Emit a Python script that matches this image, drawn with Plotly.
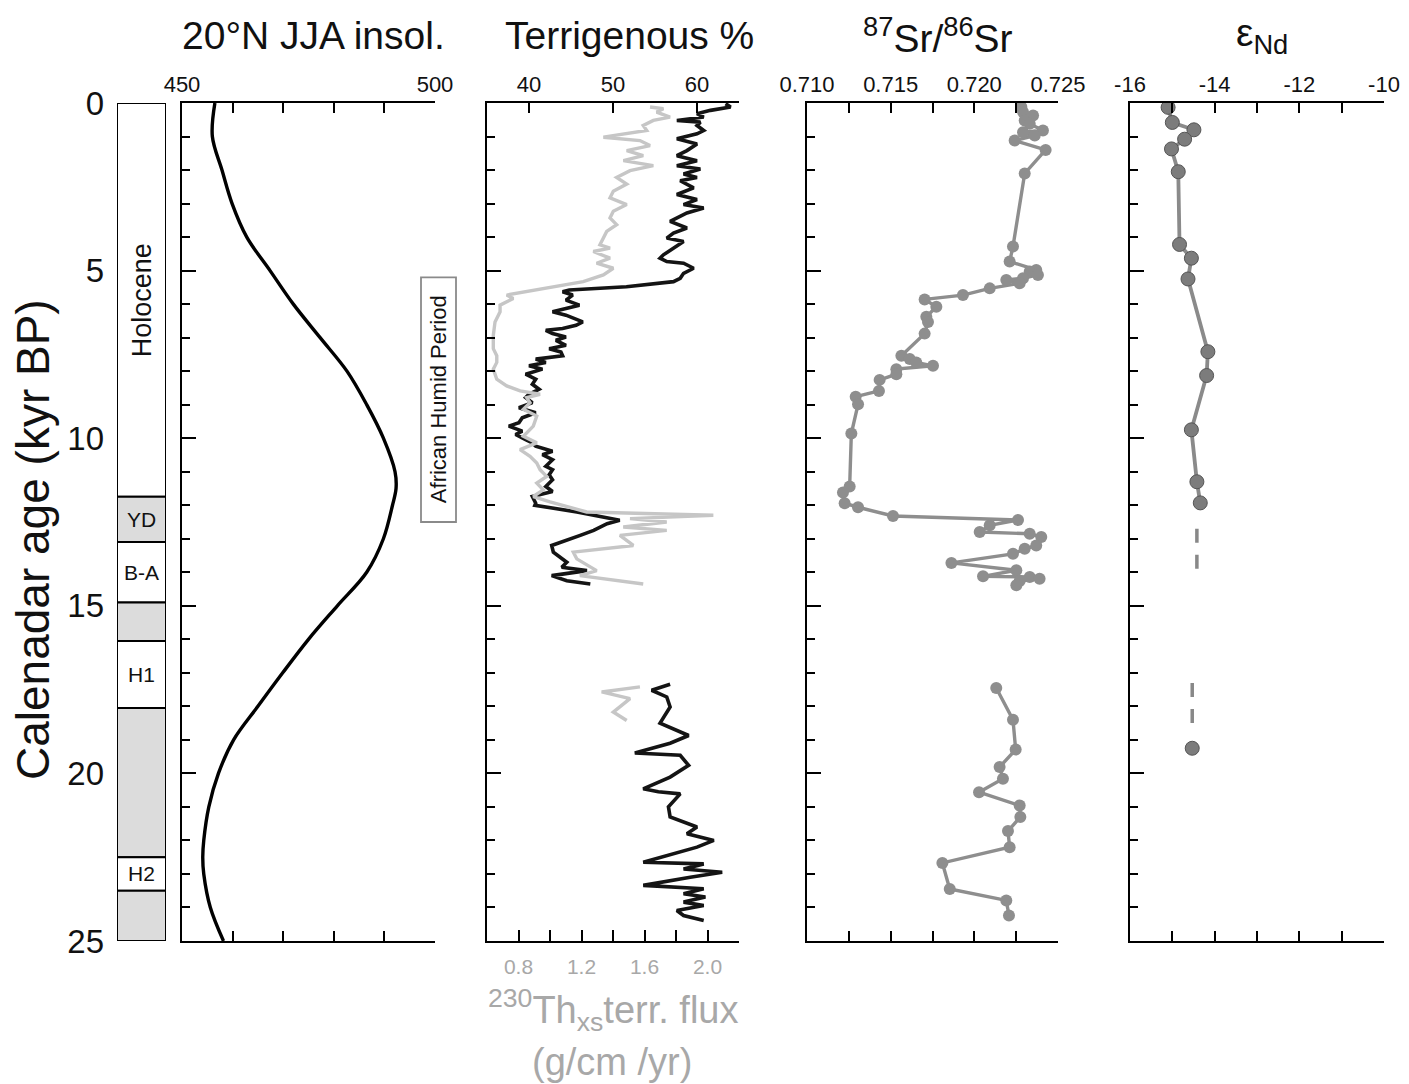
import plotly.graph_objects as go

# ---------------- data ----------------
# 20°N June-July-August insolation (W/m2) against calendar age (kyr BP)
ins_age = [0, 1, 2, 3, 4, 5, 6, 7, 8, 9, 10, 11, 11.5, 12, 13, 14, 15, 16, 17, 18, 19, 20, 21, 22, 22.5, 23, 24, 25]
ins_val = [456.5, 456.0, 457.9, 459.9, 462.8, 467.4, 472.0, 477.3, 482.6, 486.5, 489.8, 492.1, 492.3, 491.6,
           489.8, 486.5, 480.7, 475.0, 469.9, 465.0, 460.2, 457.2, 455.3, 454.3, 454.1, 454.3, 455.6, 458.2]

# Stratigraphic intervals (kyr BP)
strat_top = [0, 11.75, 13.1, 14.9, 16.05, 18.05, 22.5, 23.5]
strat_bot = [11.75, 13.1, 14.9, 16.05, 18.05, 22.5, 23.5, 25]
strat_shaded = [False, True, False, True, False, True, False, True]
strat_label = ["Holocene", "YD", "B-A", "", "H1", "", "H2", ""]

# African Humid Period (kyr BP)
ahp_start, ahp_end = 5.2, 12.5

# Terrigenous % (black)
terr_age = [0.02, 0.12, 0.22, 0.32, 0.42, 0.52, 0.57, 0.67, 0.82, 0.92, 1.07, 1.22, 1.42, 1.57, 1.72, 1.87,
            1.97, 2.12, 2.22, 2.32, 2.53, 2.73, 2.88, 3.03, 3.13, 3.28, 3.53, 3.73, 3.88, 4.03, 4.13, 4.33,
            4.53, 4.63, 4.73, 4.78, 4.93, 5.08, 5.23, 5.33, 5.48, 5.58, 5.63, 5.73, 5.88, 6.03, 6.18, 6.23,
            6.33, 6.53, 6.63, 6.73, 6.78, 6.88, 6.98, 7.08, 7.23, 7.33, 7.43, 7.54, 7.64, 7.74, 7.84, 7.94,
            8.09, 8.24, 8.39, 8.54, 8.69, 8.79, 8.94, 9.09, 9.24, 9.39, 9.54, 9.64, 9.79, 9.89, 10.04, 10.14,
            10.24, 10.39, 10.49, 10.64, 10.74, 10.84, 10.94, 11.09, 11.24, 11.34, 11.44, 11.59, 11.74, 11.94,
            12.0, 12.2, 12.35, 12.45, 12.55, 12.75, 12.9, 13.05, 13.2, 13.4, 13.7, 13.85, 13.95, 14.1, 14.25,
            14.35, None,
            17.34, 17.52, 17.72, 18.02, 18.5, 18.87, 19.1, 19.39, 19.46, 19.76, 20.11, 20.46, 20.55, 20.61,
            21.0, 21.3, 21.6, 21.8, 22.0, 22.2, 22.65, 22.7, 22.85, 22.95, 23.1, 23.34, 23.44, 23.59, 23.69,
            23.84, 23.94, 24.09, 24.24, 24.39]
terr_pct = [63.4, 64.0, 61.6, 60.0, 60.8, 57.6, 60.4, 60.0, 60.8, 60.0, 57.6, 60.0, 58.8, 57.6, 60.0, 57.6,
            60.4, 58.4, 60.0, 58.0, 59.6, 57.6, 60.0, 58.4, 60.8, 58.8, 56.8, 58.8, 57.2, 56.4, 58.4, 57.2,
            56.0, 55.6, 56.4, 58.4, 59.6, 58.4, 58.0, 57.2, 51.6, 44.8, 44.0, 45.2, 44.4, 46.0, 43.6, 42.8,
            44.4, 46.4, 45.6, 44.0, 42.0, 42.8, 44.4, 43.2, 44.4, 42.4, 43.8, 44.0, 40.8, 42.0, 40.0, 41.6,
            39.6, 40.8, 40.4, 41.2, 40.0, 39.6, 40.4, 38.8, 40.8, 39.2, 38.8, 37.6, 39.2, 38.4, 39.6, 40.4,
            40.8, 42.8, 41.6, 42.8, 42.4, 42.0, 42.8, 42.4, 42.8, 42.4, 42.0, 42.8, 40.4, 40.8,
            40.7, 45.7, 48.8, 50.8, 49.3, 47.7, 46.1, 44.5, 42.7, 42.9, 44.5, 43.9, 46.9, 42.7, 44.5,
            47.3, None,
            56.8, 54.6, 56.4, 56.8, 55.6, 59.0, 56.8, 52.6, 58.0, 59.0, 56.8, 53.6, 55.4, 58.0,
            56.6, 56.8, 60.0, 58.8, 62.0, 60.0, 53.6, 60.8, 58.4, 63.0, 59.2, 53.6, 60.8, 58.4, 61.0,
            58.4, 60.8, 57.6, 58.4, 60.8]

# 230Th-normalised terrigenous flux (grey)
flux_age = [0.12, 0.17, 0.27, 0.42, 0.52, 0.67, 0.82, 1.02, 1.12, 1.27, 1.42, 1.57, 1.72, 1.87, 2.02, 2.22,
            2.42, 2.63, 2.83, 3.03, 3.23, 3.43, 3.63, 3.83, 4.03, 4.23, 4.33, 4.43, 4.63, 4.78, 4.93, 5.13,
            5.33, 5.53, 5.73, 5.83, 6.03, 6.23, 6.53, 6.93, 7.33, 7.54, 7.74, 7.94, 8.24, 8.44, 8.59, 8.69,
            8.79, 8.94, 9.14, 9.34, 9.64, 9.94, 10.14, 10.34, 10.54, 10.74, 10.94, 11.14, 11.34, 11.54, 11.74,
            11.9, 12.2, 12.3, 12.4, 12.5, 12.65, 12.75, 12.9, 13.2, 13.4, 13.6, 13.95, 14.1, 14.35, None,
            17.42, 17.57, 17.77, 18.17, 18.42]
flux_val = [1.635, 1.72, 1.677, 1.762, 1.656, 1.592, 1.614, 1.339, 1.571, 1.635, 1.487, 1.592, 1.466, 1.656,
            1.508, 1.423, 1.487, 1.402, 1.381, 1.487, 1.402, 1.381, 1.423, 1.36, 1.339, 1.317, 1.381, 1.275,
            1.381, 1.296, 1.402, 1.339, 1.211, 0.957, 0.725, 0.767, 0.683, 0.683, 0.651, 0.64, 0.64, 0.662,
            0.662, 0.64, 0.662, 0.725, 0.81, 0.937, 0.852, 0.873, 0.831, 0.916, 0.894, 0.831, 0.916, 0.81,
            0.873, 0.916, 0.937, 0.979, 0.916, 0.957, 0.894,
            1.0, 1.233, 2.037, 1.508, 1.741, 1.465, 1.741, 1.444, 1.529, 1.148, 1.170, 1.296, 1.190, 1.592,
            None,
            1.571, 1.328, 1.508, 1.402, 1.487]

# 87Sr/86Sr
sr_age = [0.12, 0.27, 0.37, 0.52, 0.62, 0.82, 0.87, 0.97, 1.12, 1.40, 2.10, 4.28, 4.73, 4.98, 5.03, 5.13,
          5.23, 5.28, 5.38, 5.53, 5.73, 5.86, 6.08, 6.38, 6.53, 6.88, 7.54, 7.64, 7.74, 7.84, 7.94, 8.09,
          8.26, 8.59, 8.76, 8.99, 9.86, 11.44, 11.62, 11.94, 12.06, 12.32, 12.44, 12.6, 12.8, 12.85, 12.95,
          13.2, 13.3, 13.45, 13.72, 13.94, 14.12, 14.14, 14.19, 14.26, 14.39, None,
          17.45, 18.4, 19.29, 19.81, 20.16, 20.56, 20.96, 21.3, 21.72, 22.2, 22.67, 23.45, 23.79, 24.24]
sr_val = [0.72281, 0.72291, 0.72351, 0.72301, 0.72331, 0.72410, 0.72291, 0.72361, 0.72241, 0.72426,
          0.72301, 0.72231, 0.72211, 0.72370, 0.72331, 0.72380, 0.72291, 0.72191, 0.72271, 0.72092,
          0.71932, 0.71703, 0.71773, 0.71713, 0.71723, 0.71703, 0.71564, 0.71614, 0.71653, 0.71753,
          0.71534, 0.71534, 0.71434, 0.71430, 0.71291, 0.71305, 0.71265, 0.71255, 0.71215, 0.71225,
          0.71305, 0.71514, 0.72261, 0.72092, 0.72032, 0.72331, 0.72400, 0.72370, 0.72301, 0.72231,
          0.71863, 0.72251, 0.72052, 0.72331, 0.72390, 0.72271, 0.72251, None,
          0.72131, 0.72231, 0.72247, 0.72151, 0.72171, 0.72028, 0.72271, 0.72275, 0.72201, 0.72211,
          0.71809, 0.71853, 0.72191, 0.72207]

# epsilon Nd
nd_age = [0.13, 0.58, 0.8, 1.08, 1.37, 2.05, 4.22, 4.63, 5.25, 7.42, 8.13, 9.75, 11.3, 11.93]
nd_val = [-15.10, -15.0, -14.49, -14.71, -15.02, -14.86, -14.83, -14.55, -14.63, -14.16, -14.19, -14.55,
          -14.42, -14.34]
nd_gap1_age, nd_gap1_val = [12.7, 13.95], [-14.42, -14.42]
nd_gap2_age, nd_gap2_val = [17.3, 18.6], [-14.53, -14.53]
nd_lgm_age, nd_lgm_val = [19.25], [-14.53]

age_ticks = [0, 5, 10, 15, 20, 25]

# ---------------- layout helpers ----------------
W, H = 1409, 1084
FONT = "Liberation Sans, Arial, Helvetica, sans-serif"
INK = "#111111"
GREY_TRACE = "#c6c6c6"
GREY_TEXT = "#a8a8a8"
SR_GREY = "#8e8e8e"


def px(x):
    return x / W


def py(y):
    return 1 - y / H


Y_DOM = [py(941), py(103)]

fig = go.Figure()

fig.add_trace(go.Scatter(x=ins_val, y=ins_age, xaxis="x2", yaxis="y2", mode="lines",
                         line=dict(color="black", width=3.4, shape="spline", smoothing=1.0),
                         showlegend=False, hoverinfo="skip"))

fig.add_trace(go.Scatter(x=flux_val, y=flux_age, xaxis="x4", yaxis="y3", mode="lines",
                         line=dict(color=GREY_TRACE, width=3.4), connectgaps=False,
                         showlegend=False, hoverinfo="skip"))
fig.add_trace(go.Scatter(x=terr_pct, y=terr_age, xaxis="x3", yaxis="y3", mode="lines",
                         line=dict(color="#141414", width=3.6), connectgaps=False,
                         showlegend=False, hoverinfo="skip"))

fig.add_trace(go.Scatter(x=sr_val, y=sr_age, xaxis="x5", yaxis="y5", mode="lines+markers",
                         line=dict(color=SR_GREY, width=3.4), connectgaps=False,
                         marker=dict(color=SR_GREY, size=12, line=dict(width=0)),
                         showlegend=False, hoverinfo="skip"))

for ga, gv in [(nd_gap1_age, nd_gap1_val), (nd_gap2_age, nd_gap2_val)]:
    fig.add_trace(go.Scatter(x=gv, y=ga, xaxis="x6", yaxis="y6", mode="lines",
                             line=dict(color="#888888", width=3.5, dash="14px,12px"),
                             showlegend=False, hoverinfo="skip"))
fig.add_trace(go.Scatter(x=nd_val, y=nd_age, xaxis="x6", yaxis="y6", mode="lines+markers",
                         line=dict(color="#8a8a8a", width=3.8),
                         marker=dict(color="#7c7c7c", size=14, line=dict(color="#555555", width=1)),
                         showlegend=False, hoverinfo="skip"))
fig.add_trace(go.Scatter(x=nd_lgm_val, y=nd_lgm_age, xaxis="x6", yaxis="y6", mode="markers",
                         marker=dict(color="#7c7c7c", size=14, line=dict(color="#555555", width=1)),
                         showlegend=False, hoverinfo="skip"))

# ---------------- axes ----------------
tickfont = dict(family=FONT, size=22, color=INK)


def top_axis(domain, rng, tickvals, ticktext, mirror="ticks"):
    return dict(domain=domain, range=rng, side="top", showline=True, linecolor="black", linewidth=2,
                mirror=mirror, ticks="inside", ticklen=10, tickwidth=2, tickcolor="black",
                tickvals=tickvals, ticktext=ticktext, tickfont=tickfont, showgrid=False,
                zeroline=False, fixedrange=True, automargin=False)


def panel_y(anchor):
    return dict(domain=Y_DOM, range=[25, 0], anchor=anchor, showline=True, linecolor="black",
                linewidth=2, ticks="inside", ticklen=14, tickwidth=2, tickcolor="black",
                tickvals=age_ticks, showticklabels=False, showgrid=False, zeroline=False,
                minor=dict(dtick=1, tick0=0, ticks="inside", ticklen=8, tickwidth=2, tickcolor="black",
                           showgrid=False),
                fixedrange=True, automargin=False)


layout = dict(
    template="none",
    width=W, height=H, autosize=False, margin=dict(l=0, r=0, t=0, b=0, pad=0),
    paper_bgcolor="white", plot_bgcolor="rgba(0,0,0,0)",
    font=dict(family=FONT, color=INK),
    showlegend=False,
    # stratigraphic column + shared age labels
    xaxis=dict(domain=[px(117), px(166)], range=[0, 1], visible=False, fixedrange=True, automargin=False),
    yaxis=dict(domain=Y_DOM, range=[25, 0], anchor="x", showline=False, ticks="",
               tickvals=age_ticks, tickfont=dict(family=FONT, size=33, color=INK),
               ticklabelstandoff=12, showgrid=False, zeroline=False, fixedrange=True, automargin=False),
    # insolation
    xaxis2=top_axis([px(182), px(435)], [450, 500], [450, 460, 470, 480, 490, 500],
                    ["450", "", "", "", "", "500"]) | dict(anchor="y2"),
    yaxis2=panel_y("x2"),
    # terrigenous %
    xaxis3=top_axis([px(487), px(739)], [35, 65], [40, 50, 60], ["40", "50", "60"], mirror=False)
    | dict(anchor="y3"),
    xaxis4=dict(overlaying="x3", anchor="y3", side="bottom", range=[0.6, 2.2], showline=True,
                linecolor="black", linewidth=2, ticks="inside", ticklen=11, tickwidth=2,
                tickcolor="black", tickvals=[0.8, 1.0, 1.2, 1.4, 1.6, 1.8, 2.0, 2.2],
                ticktext=["0.8", "", "1.2", "", "1.6", "", "2.0", ""],
                tickfont=dict(family=FONT, size=21, color=GREY_TEXT), ticklabelstandoff=6,
                showgrid=False, zeroline=False, fixedrange=True, automargin=False),
    yaxis3=panel_y("x3"),
    # 87Sr/86Sr
    xaxis5=top_axis([px(807), px(1058)], [0.710, 0.725],
                    [0.710, 0.7125, 0.715, 0.7175, 0.720, 0.7225, 0.725],
                    ["0.710", "", "0.715", "", "0.720", "", "0.725"]) | dict(anchor="y5"),
    yaxis5=panel_y("x5"),
    # eNd
    xaxis6=top_axis([px(1130), px(1384)], [-16, -10], [-16, -15, -14, -13, -12, -11, -10],
                    ["-16", "", "-14", "", "-12", "", "-10"]) | dict(anchor="y6"),
    yaxis6=panel_y("x6"),
)
fig.update_layout(**layout)

# ---------------- stratigraphic column ----------------
shapes = []
annotations = []
for top, bot, shaded, label in zip(strat_top, strat_bot, strat_shaded, strat_label):
    shapes.append(dict(type="rect", xref="x", yref="y", x0=0, x1=1, y0=top, y1=bot,
                       fillcolor="#dcdcdc" if shaded else "white",
                       line=dict(color="black", width=2), layer="below"))
    if label:
        mid = (top + bot) / 2
        if label == "Holocene":
            mid = 5.9
        annotations.append(dict(xref="x", yref="y", x=0.5, y=mid, text=label, showarrow=False,
                                xanchor="center", yanchor="middle",
                                textangle=-90 if label == "Holocene" else 0,
                                font=dict(family=FONT, size=27 if label == "Holocene" else 21,
                                          color=INK)))

# African Humid Period box
shapes.append(dict(type="rect", xref="paper", yref="y", x0=px(421), x1=px(456), y0=ahp_start, y1=ahp_end,
                   line=dict(color="#8a8a8a", width=1.8), fillcolor="white"))
annotations.append(dict(xref="paper", yref="y", x=px(438.5), y=(ahp_start + ahp_end) / 2,
                        xanchor="center", yanchor="middle",
                        text="African Humid Period", textangle=-90, showarrow=False,
                        font=dict(family=FONT, size=22, color=INK)))

# panel titles
title_font = dict(family=FONT, size=39, color=INK)
for x, text in [(313, "20°N JJA insol."), (629, "Terrigenous %"),
                (938, "<sup>87</sup>Sr/<sup>86</sup>Sr"), (1262, "ε<sub>Nd</sub>")]:
    annotations.append(dict(xref="paper", yref="paper", x=px(x), y=py(36), text=text, showarrow=False,
                            xanchor="center", yanchor="middle", font=title_font))

# age axis title
annotations.append(dict(xref="paper", yref="paper", x=px(33), y=py(540), text="Calenadar age (kyr BP)",
                        xanchor="center", yanchor="middle",
                        textangle=-90, showarrow=False, font=dict(family=FONT, size=46, color=INK)))

# flux axis title
flux_font = dict(family=FONT, size=38, color=GREY_TEXT)
annotations.append(dict(xref="paper", yref="paper", x=px(613), y=py(1010), xanchor="center",
                        yanchor="middle", text="<sup>230</sup>Th<sub>xs</sub>terr. flux",
                        showarrow=False, font=flux_font))
annotations.append(dict(xref="paper", yref="paper", x=px(612), y=py(1062), xanchor="center",
                        yanchor="middle", text="(g/cm /yr)", showarrow=False, font=flux_font))

fig.update_layout(shapes=shapes, annotations=annotations)

fig.write_html("out.html")
